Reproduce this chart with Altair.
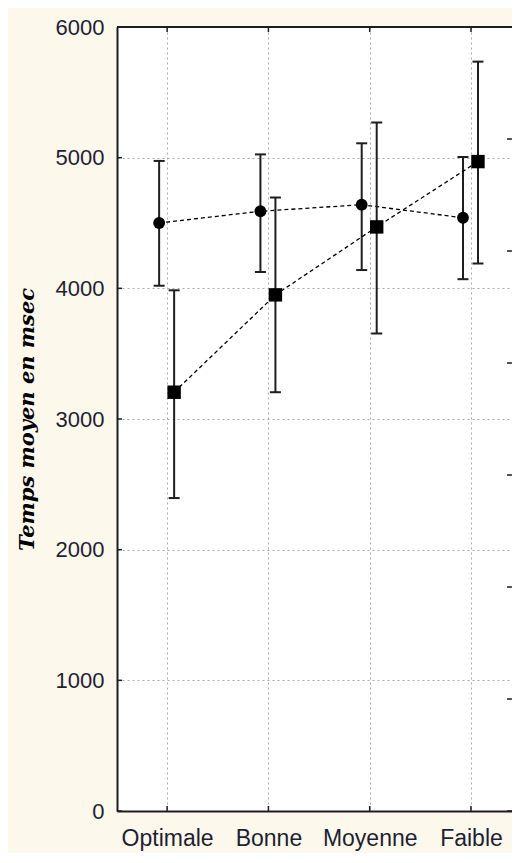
import altair as alt
import pandas as pd

# ---- data ----
cats = ["Optimale", "Bonne", "Moyenne", "Faible"]
circ_mean = [4500, 4590, 4640, 4540]
circ_lo = [4020, 4125, 4140, 4070]
circ_hi = [4975, 5025, 5110, 5005]
sq_mean = [3205, 3950, 4470, 4970]
sq_lo = [2395, 3205, 3655, 4190]
sq_hi = [3985, 4695, 5270, 5735]
y_ticks = [0, 1000, 2000, 3000, 4000, 5000, 6000]
right_ticks = [0, 1, 2, 3, 4, 5, 6, 7]

W, H = 395, 784
INK = "#1e1e1e"
LABEL_COLOR = "#1f1f33"

df_c = pd.DataFrame({"cat": cats, "idx": list(range(len(cats))),
                     "mean": circ_mean, "lo": circ_lo, "hi": circ_hi})
df_s = pd.DataFrame({"cat": cats, "idx": list(range(len(cats))),
                     "mean": sq_mean, "lo": sq_lo, "hi": sq_hi})
df_cats = pd.DataFrame({"cat": cats})
df_y = pd.DataFrame({"v": y_ticks})
df_r = pd.DataFrame({"r": right_ticks})
df_one = pd.DataFrame({"k": [0]})

# the original plot is wider than the window: keep its category spacing
xscale = alt.Scale(type="point", domain=cats, padding=0.45, align=0.55)
yscale = alt.Scale(domain=[0, 6000], nice=False)

x_axis = alt.Axis(title=None, labelFont="Liberation Sans", labelFontSize=23,
                  labelColor=LABEL_COLOR, labelAngle=0, ticks=False, labelPadding=16,
                  domain=True, domainColor=INK, domainWidth=2,
                  grid=True, gridColor="#aaaaaa", gridDash=[2, 3], gridWidth=1)
y_axis = alt.Axis(title="Temps moyen en msec", values=y_ticks, format="d",
                  labelFont="Liberation Sans", labelFontSize=22, labelColor=LABEL_COLOR,
                  ticks=False, labelPadding=13,
                  domain=True, domainColor=INK, domainWidth=2,
                  grid=True, gridColor="#aaaaaa", gridDash=[2, 3], gridWidth=1,
                  titleFont="DejaVu Serif", titleFontStyle="italic", titleFontWeight="bold",
                  titleFontSize=21, titleColor="black", titleAngle=270,
                  titleX=-90, titleY=H / 2, titleAlign="center", titleBaseline="middle")

X = alt.X("cat:N", scale=xscale, axis=x_axis, sort=cats)


def Y(field):
    return alt.Y(f"{field}:Q", scale=yscale, axis=y_axis)


def series(df, shape, size, off):
    base = alt.Chart(df)
    line = base.mark_line(color="black", strokeDash=[4, 3], strokeWidth=1.3,
                          xOffset=off).encode(x=X, y=Y("mean"), order="idx:Q")
    bar = base.mark_rule(color=INK, strokeWidth=2, xOffset=off).encode(
        x=X, y=Y("lo"), y2="hi:Q")
    cap_lo = base.mark_tick(color=INK, size=11, thickness=2, orient="horizontal",
                            xOffset=off, opacity=1).encode(x=X, y=Y("lo"))
    cap_hi = base.mark_tick(color=INK, size=11, thickness=2, orient="horizontal",
                            xOffset=off, opacity=1).encode(x=X, y=Y("hi"))
    pts = base.mark_point(shape=shape, filled=True, color="black", opacity=1,
                          size=size, xOffset=off).encode(x=X, y=Y("mean"))
    return [line, bar, cap_lo, cap_hi, pts]


left_ticks = alt.Chart(df_y).mark_rule(color=INK, strokeWidth=1.5).encode(
    y=Y("v"), x=alt.value(0), x2=alt.value(5))
top_ticks = alt.Chart(df_cats).mark_rule(color=INK, strokeWidth=1.5).encode(
    x=X, y=alt.value(0), y2=alt.value(5))
bottom_ticks = alt.Chart(df_cats).mark_rule(color=INK, strokeWidth=1.5).encode(
    x=X, y=alt.value(H - 5), y2=alt.value(H))
top_border = alt.Chart(df_one).mark_rule(color=INK, strokeWidth=2).encode(
    x=alt.value(0), x2=alt.value(W), y=alt.value(0))

main = alt.layer(
    left_ticks, top_ticks, bottom_ticks, top_border,
    *series(df_c, "circle", 140, -8),
    *series(df_s, "square", 180, 7),
)

right = alt.Chart(df_r).mark_rule(color=INK, strokeWidth=1.5).encode(
    y=alt.Y("r:Q", scale=alt.Scale(domain=[0, 7], nice=False), axis=None),
    x=alt.value(W - 5), x2=alt.value(W))

chart = alt.layer(main, right).resolve_scale(y="independent").properties(
    width=W, height=H,
    background="#fdf8ec",
    padding={"left": 109, "top": 19, "right": 0, "bottom": 42},
    autosize=alt.AutoSizeParams(type="none"),
).configure_view(stroke=None, fill="white")

chart.save("out.html", embed_options={"renderer": "svg", "actions": False})
